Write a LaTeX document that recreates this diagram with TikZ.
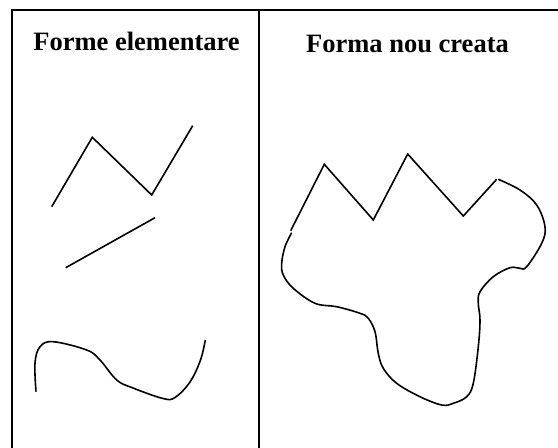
\documentclass[tikz,border=0pt]{standalone}
\usepackage{fontspec}
\setmainfont{Liberation Serif}
\begin{document}
\begin{tikzpicture}[x=1pt,y=-1pt,
  frame/.style={line width=1.8pt,black},
  stroke/.style={line width=1.6pt,black,line join=miter},
  title/.style={anchor=base,inner sep=0pt,font=\fontsize{26.5}{30}\selectfont\bfseries}]
\useasboundingbox (0,0) rectangle (558,448);
% frame
\draw[frame] (558,10) -- (12,10) -- (12,448);
\draw[frame] (259,10) -- (259,448);
% titles
\node[title] (t1) at (136.5,50) {Forme elementare};
\node[title] (t2) at (407.5,52) {Forma nou creata};
% elementary shapes
\draw[stroke] (51.7,206.7) -- (92.3,137.3) -- (151.7,195) -- (192.7,125.7);
\draw[stroke] (65.7,267.7) -- (155,217.7);
\draw[stroke] plot[smooth,tension=0.6] coordinates {(36,391.7) (35,363) (40,346.7) (53.3,341.7) (86.7,350) (100,360) (116.7,380) (133,388) (163,398.5) (175,397.5) (190,382) (200.5,360) (205.3,340)};
% new shape
\draw[stroke] (290.7,230.7) -- (324.3,164.3) -- (373.3,220) -- (407.7,154) -- (463.3,216) -- (496.7,179.3);
\draw[stroke] plot[smooth,tension=0.6] coordinates {(498.3,179.3) (520,190) (536.7,205) (545,226.7) (541.7,243.3) (526.7,266.7) (520,268.3) (510,267.7) (493.3,276.7) (480,291.7) (478.3,303.3) (480,320) (478.3,346.7) (473.3,383.3) (466.7,396.7) (453.3,403.3) (441.7,405) (420,396.7) (396.7,383.3) (383.3,368.3) (378.3,353.3) (375,331.7) (368.3,318.3) (360,313.3) (336.7,306.7) (315,303.3) (293.3,288.3) (283.3,275) (281.7,263.3) (285,246.7) (291.7,232.7)};
\end{tikzpicture}
\end{document}
